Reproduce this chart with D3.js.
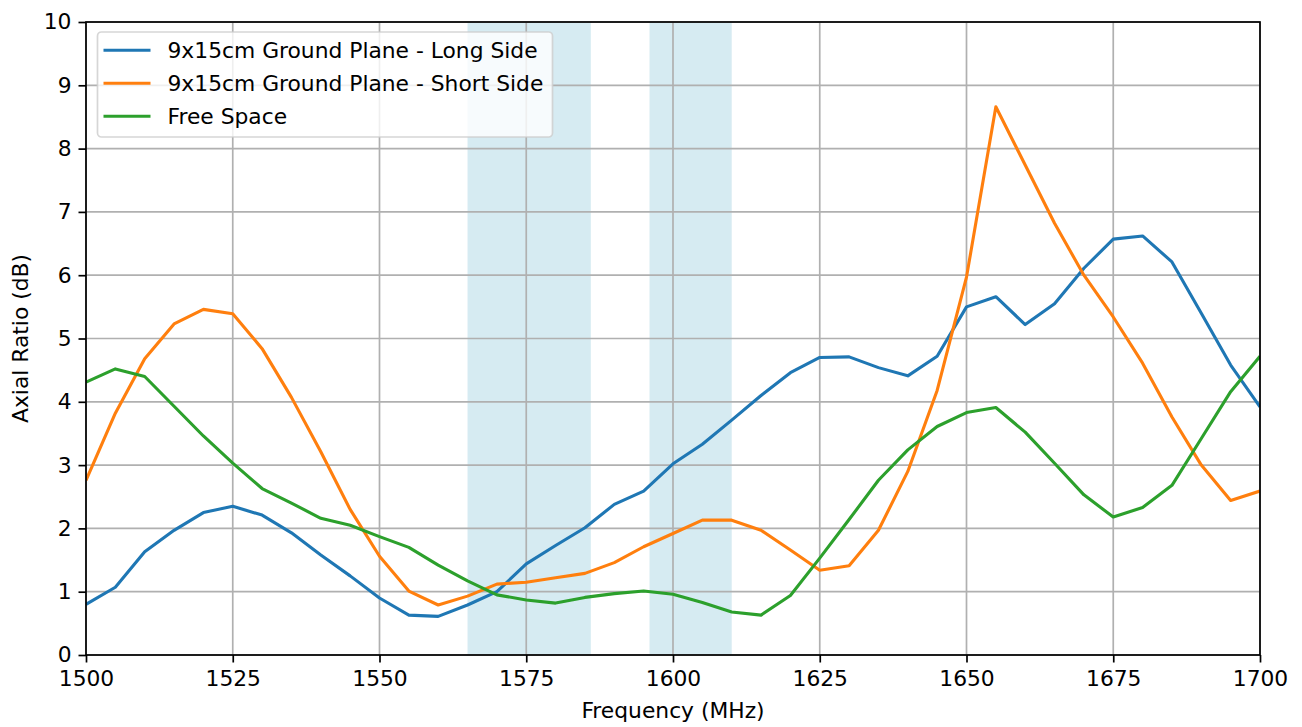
<!DOCTYPE html>
<html>
<head>
<meta charset="utf-8">
<script src="https://cdn.jsdelivr.net/npm/d3@7"></script>
<style>
  body { margin: 0; background: #fff; }
  #axial-ratio-wrapper { width: 1302px; height: 727px; }
  text { font-family: "DejaVu Sans", sans-serif; fill: #000; }
</style>
</head>
<body>
<div id="axial-ratio-wrapper"></div>
<script>

// Data
const frequencies = [1500, 1505, 1510, 1515, 1520, 1525, 1530, 1535, 1540, 1545,
  1550, 1555, 1560, 1565, 1570, 1575, 1580, 1585, 1590, 1595,
  1600, 1605, 1610, 1615, 1620, 1625, 1630, 1635, 1640, 1645,
  1650, 1655, 1660, 1665, 1670, 1675, 1680, 1685, 1690, 1695, 1700]

const longSide = [0.80, 1.07, 1.63, 1.97, 2.25, 2.35, 2.21, 1.93, 1.58, 1.25,
  0.90, 0.63, 0.61, 0.79, 1.00, 1.44, 1.73, 2.01, 2.38, 2.59,
  3.02, 3.33, 3.71, 4.10, 4.46, 4.70, 4.71, 4.54, 4.41, 4.72,
  5.50, 5.66, 5.22, 5.55, 6.11, 6.57, 6.62, 6.21, 5.40, 4.58, 3.92]

const shortSide = [2.76, 3.82, 4.68, 5.23, 5.46, 5.39, 4.84, 4.07, 3.21, 2.30,
  1.56, 1.01, 0.79, 0.93, 1.12, 1.15, 1.22, 1.29, 1.46, 1.71,
  1.92, 2.13, 2.13, 1.97, 1.66, 1.34, 1.41, 1.97, 2.90, 4.18,
  5.97, 8.66, 7.74, 6.82, 6.00, 5.34, 4.61, 3.76, 3.00, 2.44, 2.59]

const freeSpace = [4.31, 4.52, 4.40, 3.93, 3.46, 3.03, 2.63, 2.40, 2.16, 2.05,
  1.87, 1.70, 1.42, 1.17, 0.95, 0.87, 0.82, 0.91, 0.97, 1.01,
  0.96, 0.83, 0.68, 0.63, 0.94, 1.53, 2.14, 2.76, 3.24, 3.61,
  3.83, 3.91, 3.52, 3.03, 2.53, 2.18, 2.33, 2.68, 3.42, 4.16, 4.72]

const seriesNames = ["9x15cm Ground Plane - Long Side", "9x15cm Ground Plane - Short Side", "Free Space"]
const seriesColors = ["#1f77b4", "#ff7f0e", "#2ca02c"]

// shaded GNSS bands (MHz)
const bandStarts = [1565, 1596]
const bandEnds = [1586, 1610]

const xTicks = [1500, 1525, 1550, 1575, 1600, 1625, 1650, 1675, 1700]
const yTicks = [0, 1, 2, 3, 4, 5, 6, 7, 8, 9, 10]

async function drawAxialRatio() {

  const width = 1302
  const height = 727
  const margin = { top: 22, right: 42, bottom: 72, left: 86 }
  const innerW = width - margin.left - margin.right
  const innerH = height - margin.top - margin.bottom
  const fontSize = 21.8

  const series = [longSide, shortSide, freeSpace].map((vals, i) => ({
    name: seriesNames[i],
    color: seriesColors[i],
    values: frequencies.map((f, j) => ({ f: f, v: vals[j] }))
  }))

  const x = d3.scaleLinear().domain([1500, 1700]).range([0, innerW])
  const y = d3.scaleLinear().domain([0, 10]).range([innerH, 0])

  const svg = d3.select("#axial-ratio-wrapper")
    .append("svg")
      .attr("width", width)
      .attr("height", height)

  svg.append("defs").append("clipPath").attr("id", "plot-clip")
    .append("rect").attr("width", innerW).attr("height", innerH)

  const g = svg.append("g").attr("transform", `translate(${margin.left},${margin.top})`)

  // bands first, grid on top of them
  g.selectAll(".band")
    .data(bandStarts.map((s, i) => [s, bandEnds[i]]))
    .join("rect")
      .attr("x", d => x(d[0]))
      .attr("width", d => x(d[1]) - x(d[0]))
      .attr("y", 0)
      .attr("height", innerH)
      .attr("fill", "#add8e6")
      .attr("fill-opacity", 0.5)

  g.append("g").selectAll("line")
    .data(xTicks)
    .join("line")
      .attr("x1", d => x(d)).attr("x2", d => x(d))
      .attr("y1", 0).attr("y2", innerH)
      .attr("stroke", "#b0b0b0").attr("stroke-width", 1.7)

  g.append("g").selectAll("line")
    .data(yTicks)
    .join("line")
      .attr("x1", 0).attr("x2", innerW)
      .attr("y1", d => y(d)).attr("y2", d => y(d))
      .attr("stroke", "#b0b0b0").attr("stroke-width", 1.7)

  const line = d3.line()
    .x(d => x(d.f))
    .y(d => y(d.v))

  g.append("g").attr("clip-path", "url(#plot-clip)")
    .selectAll("path")
    .data(series)
    .join("path")
      .attr("d", d => line(d.values))
      .attr("fill", "none")
      .attr("stroke", d => d.color)
      .attr("stroke-width", 3.1)
      .attr("stroke-linejoin", "round")

  // axes
  const xAxis = g.append("g")
    .attr("transform", `translate(0,${innerH})`)
    .call(d3.axisBottom(x).tickValues(xTicks).tickFormat(d3.format("d")).tickSizeOuter(0).tickSize(7.5).tickPadding(8))
  const yAxis = g.append("g")
    .call(d3.axisLeft(y).tickValues(yTicks).tickFormat(d3.format("d")).tickSizeOuter(0).tickSize(7.5).tickPadding(7))

  for (const ax of [xAxis, yAxis]) {
    ax.select(".domain").remove()
    ax.selectAll(".tick line").attr("stroke", "#000").attr("stroke-width", 1.7)
    ax.selectAll(".tick text").attr("font-size", fontSize).attr("font-family", "DejaVu Sans").attr("fill", "#000")
  }

  g.append("rect")
    .attr("width", innerW).attr("height", innerH)
    .attr("fill", "none").attr("stroke", "#000").attr("stroke-width", 1.7)

  svg.append("text")
    .attr("x", margin.left + innerW / 2)
    .attr("y", 718)
    .attr("text-anchor", "middle")
    .attr("font-size", fontSize)
    .text("Frequency (MHz)")

  svg.append("text")
    .attr("transform", `translate(28,${margin.top + innerH / 2}) rotate(-90)`)
    .attr("text-anchor", "middle")
    .attr("font-size", fontSize)
    .text("Axial Ratio (dB)")

  // legend
  const legend = svg.append("g")
  legend.append("rect")
    .attr("x", 97.5).attr("y", 32)
    .attr("width", 455).attr("height", 105)
    .attr("rx", 4).attr("ry", 4)
    .attr("fill", "#fff").attr("fill-opacity", 0.8)
    .attr("stroke", "#cccccc").attr("stroke-opacity", 0.8).attr("stroke-width", 1.7)

  const rows = legend.selectAll(".row")
    .data(series)
    .join("g")
      .attr("transform", (d, i) => `translate(0,${50.3 + i * 33})`)

  rows.append("line")
    .attr("x1", 103.5).attr("x2", 150.5)
    .attr("stroke", d => d.color).attr("stroke-width", 3.1)

  rows.append("text")
    .attr("x", 167.5).attr("y", 8)
    .attr("font-size", fontSize)
    .text(d => d.name)
}

window.onload = function () {
  drawAxialRatio()
}
</script>
</body>
</html>
